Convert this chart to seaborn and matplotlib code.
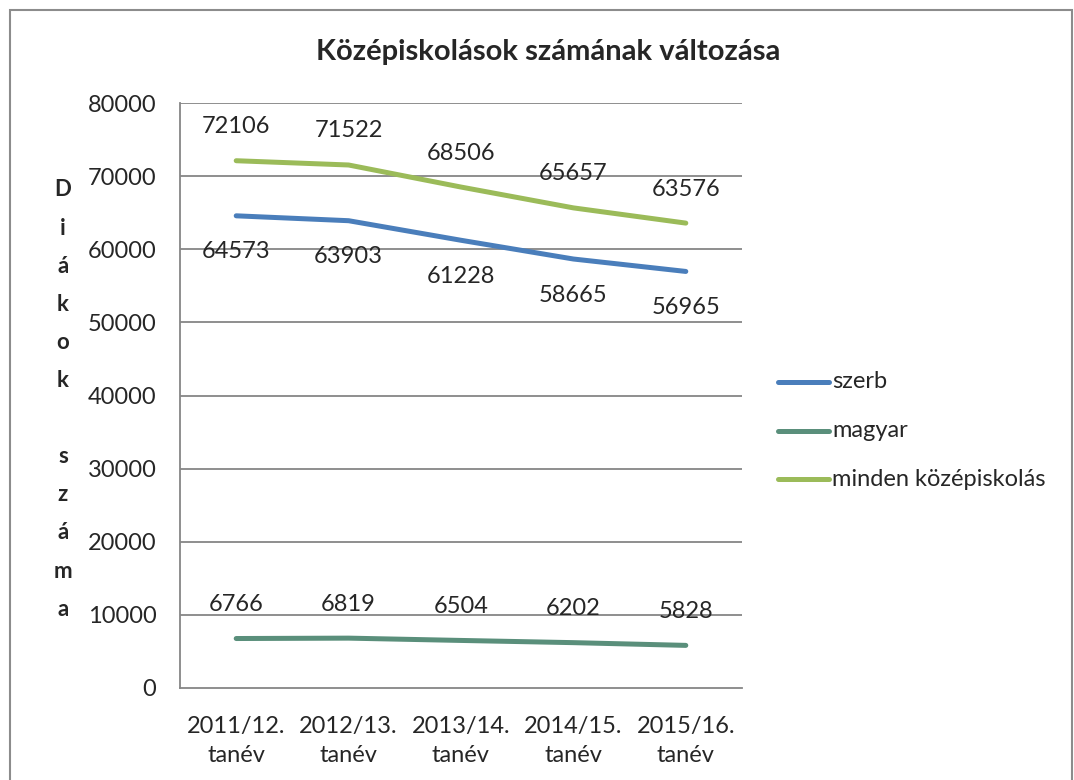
"""Recreate the 'Középiskolások számának változása' line chart."""
import matplotlib

matplotlib.use("Agg")

import matplotlib.pyplot as plt  # noqa: E402
import pandas as pd  # noqa: E402
import seaborn as sns  # noqa: E402
from matplotlib.patches import Rectangle  # noqa: E402

years = ["2011/12.\ntanév", "2012/13.\ntanév", "2013/14.\ntanév", "2014/15.\ntanév", "2015/16.\ntanév"]
szerb = [64573, 63903, 61228, 58665, 56965]
magyar = [6766, 6819, 6504, 6202, 5828]
minden = [72106, 71522, 68506, 65657, 63576]
series_names = ["szerb", "magyar", "minden középiskolás"]
colors = ["#4A7EBB", "#5A8F7B", "#9BBB59"]
y_ticks = [0, 10000, 20000, 30000, 40000, 50000, 60000, 70000, 80000]

sns.set_theme(style="white")
plt.rcParams["font.family"] = ["Lato", "DejaVu Sans"]
FS = 17

rows = []
for name, vals in zip(series_names, [szerb, magyar, minden]):
    for i, v in enumerate(vals):
        rows.append({"x": i, "value": v, "series": name})
df = pd.DataFrame(rows)

fig = plt.figure(figsize=(10.74, 7.8), dpi=100)
ax = fig.add_axes([180 / 1074, 1 - 688 / 780, 562 / 1074, 585 / 780])

sns.lineplot(data=df, x="x", y="value", hue="series", palette=colors,
             linewidth=3.6, ax=ax, legend=False, solid_capstyle="round")

grid_col = "#868686"
ax.set_xlim(-0.5, 4.5)
ax.set_ylim(0, 80000)
ax.set_yticks(y_ticks)
ax.set_yticklabels([str(t) for t in y_ticks], fontsize=FS)
ax.set_xticks(range(len(years)))
ax.set_xticklabels(years, fontsize=FS, linespacing=1.5)
ax.set_xticks([i - 0.5 for i in range(len(years) + 1)], minor=True)
ax.tick_params(axis="x", which="major", length=0, pad=20)
ax.tick_params(axis="x", which="minor", length=6, color=grid_col, width=1.3, direction="out")
ax.tick_params(axis="y", length=6, color=grid_col, width=1.3, direction="out", pad=11)
ax.set_xlabel("")
ax.set_ylabel("")
for y in y_ticks[1:]:
    ax.axhline(y, color=grid_col, linewidth=1.3, zorder=0)
for side in ["top", "right"]:
    ax.spines[side].set_visible(False)
for side in ["left", "bottom"]:
    ax.spines[side].set_color(grid_col)
    ax.spines[side].set_linewidth(1.3)

# data labels
for i, v in enumerate(minden):
    ax.annotate(str(v), (i, v), xytext=(0, 24.5), textcoords="offset points",
                ha="center", va="center", fontsize=FS)
for i, v in enumerate(szerb):
    ax.annotate(str(v), (i, v), xytext=(0, -26), textcoords="offset points",
                ha="center", va="center", fontsize=FS)
for i, v in enumerate(magyar):
    ax.annotate(str(v), (i, v), xytext=(0, 24.5), textcoords="offset points",
                ha="center", va="center", fontsize=FS)

fig.text(548 / 1074, 1 - 52 / 780, "Középiskolások számának változása",
         ha="center", va="center", fontsize=21, fontweight="bold")

# vertical stacked y label
ylabel_chars = ["D", "i", "á", "k", "o", "k", "", "s", "z", "á", "m", "a"]
for k, ch in enumerate(ylabel_chars):
    fig.text(63 / 1074, 1 - (190 + k * 38.1) / 780, ch, ha="center", va="center",
             fontsize=16, fontweight="bold")

# legend
for k, (name, c) in enumerate(zip(series_names, colors)):
    yy = 1 - (382 + k * 48.5) / 780
    fig.add_artist(plt.Line2D([778 / 1074, 829 / 1074], [yy, yy], color=c,
                              linewidth=3.6, solid_capstyle="round"))
    fig.text(832 / 1074, yy, name, ha="left", va="center", fontsize=FS)

# chart area border
fig.add_artist(Rectangle((10 / 1074, -0.05), 1062 / 1074, 1.05 - 10 / 780,
                         transform=fig.transFigure, fill=False,
                         edgecolor="#8C8C8C", linewidth=1.5))

fig.savefig("out.png", dpi=100)
